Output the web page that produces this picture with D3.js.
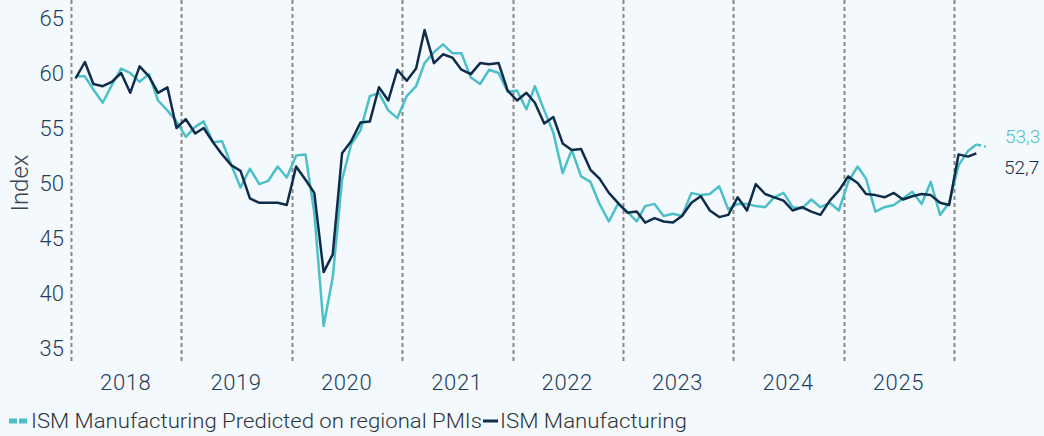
<!DOCTYPE html>
<html>
<head>
<meta charset="utf-8">
<script src="https://cdn.jsdelivr.net/npm/d3@7"></script>
<style>
  body { margin: 0; background: #f4f9fd; }
  svg { display: block; font-family: Roboto, "Noto Sans", sans-serif; }
</style>
</head>
<body>
<div id="chart"></div>
<script>
"use strict";

// first month of both series is Jan 2018, monthly values
var startYear = 2018;
var yearLabels = ["2018", "2019", "2020", "2021", "2022", "2023", "2024", "2025"];
var yTicks = [35, 40, 45, 50, 55, 60, 65];

// ISM Manufacturing Predicted on regional PMIs (Jan 2018 - Apr 2026, last point is the forecast)
var predicted = [
  59.7, 59.7, 58.5, 57.3, 58.9, 60.4, 60.0, 59.2, 59.9, 57.5, 56.6, 55.6,
  54.2, 55.1, 55.6, 53.7, 53.8, 51.6, 49.6, 51.3, 49.9, 50.2, 51.5, 50.5,
  52.5, 52.6, 47.3, 37.0, 41.4, 50.3, 53.5, 54.8, 57.9, 58.2, 56.6, 55.9,
  57.9, 58.8, 60.9, 61.9, 62.6, 61.8, 61.8, 59.6, 59.0, 60.3, 60.0, 58.3,
  58.4, 56.7, 58.8, 56.6, 54.6, 50.9, 53.0, 50.6, 50.1, 48.1, 46.5, 48.1,
  47.4, 46.5, 47.9, 48.1, 47.0, 47.2, 47.0, 49.1, 48.9, 49.0, 49.7, 47.6,
  48.1, 48.1, 47.9, 47.8, 48.7, 49.1, 47.8, 47.7, 48.5, 47.8, 48.2, 47.5,
  50.1, 51.5, 50.4, 47.4, 47.8, 48.0, 48.6, 49.2, 48.1, 50.1, 47.1, 48.2,
  51.6, 52.9, 53.5, 53.3
];

// ISM Manufacturing (Jan 2018 - Mar 2026)
var actual = [
  59.5, 61.0, 59.0, 58.8, 59.2, 60.0, 58.2, 60.6, 59.7, 58.2, 58.7, 55.0,
  55.8, 54.5, 55.0, 53.7, 52.6, 51.6, 51.1, 48.6, 48.2, 48.2, 48.2, 48.0,
  51.5, 50.3, 49.1, 41.9, 43.5, 52.7, 53.8, 55.5, 55.6, 58.7, 57.5, 60.3,
  59.3, 60.4, 63.9, 60.9, 61.7, 61.4, 60.3, 59.9, 60.9, 60.8, 60.9, 58.4,
  57.5, 58.2, 57.3, 55.4, 56.0, 53.6, 53.0, 53.1, 51.2, 50.4, 49.1, 48.2,
  47.3, 47.4, 46.4, 46.8, 46.5, 46.4, 47.0, 48.2, 48.8, 47.5, 46.9, 47.1,
  48.7, 47.5, 49.9, 49.0, 48.7, 48.4, 47.5, 47.8, 47.4, 47.1, 48.4, 49.3,
  50.6, 50.0, 49.0, 48.9, 48.7, 49.1, 48.5, 48.8, 49.0, 48.9, 48.2, 48.0,
  52.6, 52.4, 52.7
];

var seriesNames = ["ISM Manufacturing Predicted on regional PMIs", "ISM Manufacturing"];
var lastLabels = ["53,3", "52,7"];

var width = 1044,
    height = 436;
var cyan = "#4dbfc7",
    navy = "#0f2d4a",
    textColor = "#1f3d5e";

var svg = d3.select("#chart").append("svg")
  .attr("width", width)
  .attr("height", height);

svg.append("rect")
  .attr("width", width)
  .attr("height", height)
  .attr("fill", "#f4f9fd");

// scales
var x = d3.scaleTime()
  .domain([new Date(startYear, 0, 1), new Date(startYear + 8, 0, 1)])
  .range([71, 954]);
var y = d3.scaleLinear().domain([35, 65]).range([348, 18]);

function monthDate(i) {
  return new Date(startYear, i, 16);
}

// dashed year separators
var years = d3.range(startYear, startYear + 9);
svg.append("g").selectAll("line")
  .data(years)
  .enter()
  .append("line")
  .attr("x1", function (d) { return Math.round(x(new Date(d, 0, 1))) + 0.5; })
  .attr("x2", function (d) { return Math.round(x(new Date(d, 0, 1))) + 0.5; })
  .attr("y1", 0)
  .attr("y2", 362)
  .attr("stroke", "#878787")
  .attr("stroke-width", 2)
  .attr("stroke-dasharray", "4,3");

// y axis
var yAxis = svg.append("g")
  .attr("transform", "translate(64,0)")
  .call(d3.axisLeft(y).tickValues(yTicks).tickSize(0).tickPadding(0));
yAxis.select(".domain").remove();
yAxis.selectAll("text")
  .attr("fill", textColor)
  .style("font-size", "22px")
  .style("font-weight", 300)
  .style("font-family", "Roboto, sans-serif");

svg.append("text")
  .attr("transform", "translate(28,183) rotate(-90)")
  .attr("text-anchor", "middle")
  .attr("fill", "#3e444c")
  .style("font-size", "24px")
  .style("font-weight", 300)
  .text("Index");

// year labels
svg.append("g").selectAll("text")
  .data(yearLabels)
  .enter()
  .append("text")
  .attr("x", function (d) { return x(new Date(+d, 6, 1)); })
  .attr("y", 390)
  .attr("text-anchor", "middle")
  .attr("fill", textColor)
  .style("font-size", "22px")
  .style("font-weight", 300)
  .style("letter-spacing", "0.6px")
  .text(function (d) { return d; });

// lines
var line = d3.line()
  .x(function (d) { return x(monthDate(d.i)); })
  .y(function (d) { return y(d.v); });

var predPts = predicted.map(function (v, i) { return { i: i, v: v }; });
var actPts = actual.map(function (v, i) { return { i: i, v: v }; });

svg.append("path")
  .datum(predPts.slice(0, predPts.length - 1))
  .attr("d", line)
  .attr("fill", "none")
  .attr("stroke", cyan)
  .attr("stroke-width", 2.5)
  .attr("stroke-linejoin", "round");

// forecast month is dashed
svg.append("path")
  .datum(predPts.slice(predPts.length - 2))
  .attr("d", line)
  .attr("fill", "none")
  .attr("stroke", cyan)
  .attr("stroke-width", 2.5)
  .attr("stroke-dasharray", "5,3");

svg.append("path")
  .datum(actPts)
  .attr("d", line)
  .attr("fill", "none")
  .attr("stroke", navy)
  .attr("stroke-width", 2.5)
  .attr("stroke-linejoin", "round");

// end labels
svg.append("text")
  .attr("x", 1005)
  .attr("y", 143)
  .attr("fill", cyan)
  .style("font-size", "19px")
  .style("font-weight", 300)
  .text(lastLabels[0]);
svg.append("text")
  .attr("x", 1004)
  .attr("y", 174)
  .attr("fill", navy)
  .style("font-size", "19px")
  .style("font-weight", 300)
  .text(lastLabels[1]);

// legend
var legend = svg.append("g").attr("transform", "translate(0,421)");
legend.append("line")
  .attr("x1", 9).attr("x2", 28)
  .attr("stroke", cyan)
  .attr("stroke-width", 5)
  .attr("stroke-dasharray", "8,2");
legend.append("text")
  .attr("x", 31)
  .attr("y", 7)
  .attr("fill", "#2b3440")
  .attr("textLength", 451)
  .attr("lengthAdjust", "spacingAndGlyphs")
  .style("font-size", "20px")
  .style("font-weight", 300)
  .text(seriesNames[0]);
legend.append("line")
  .attr("x1", 483).attr("x2", 498)
  .attr("stroke", navy)
  .attr("stroke-width", 3);
legend.append("text")
  .attr("x", 500)
  .attr("y", 7)
  .attr("fill", "#2b3440")
  .attr("textLength", 187)
  .attr("lengthAdjust", "spacingAndGlyphs")
  .style("font-size", "20px")
  .style("font-weight", 300)
  .text(seriesNames[1]);
</script>
</body>
</html>
